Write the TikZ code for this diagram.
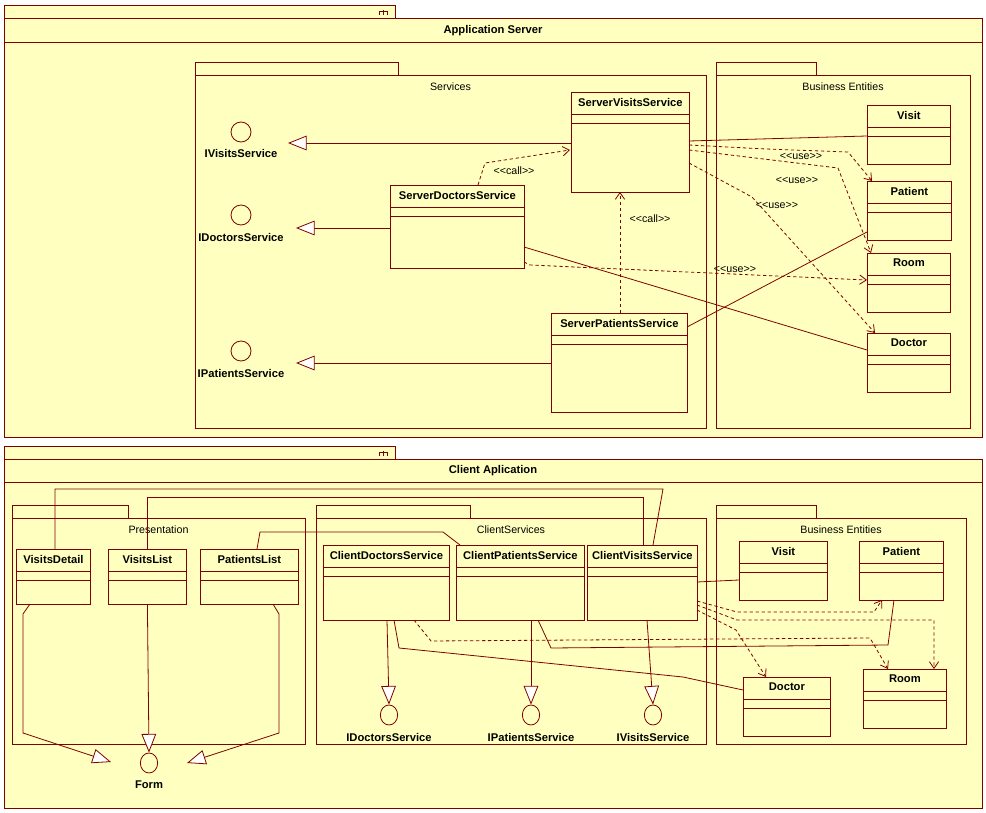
\documentclass[tikz,border=0pt]{standalone}
\usepackage{fontspec}
\setmainfont{Liberation Sans}
\usetikzlibrary{arrows.meta,calc,positioning}
\definecolor{umlfill}{RGB}{255,255,192}
\definecolor{umlline}{RGB}{128,0,0}
\tikzset{
  pkg/.style={draw=umlline,fill=umlfill,line width=0.6pt},
  cls/.style={draw=umlline,fill=umlfill,line width=0.6pt,anchor=north west,inner sep=0pt},
  clsname/.style={font=\fontsize{8.4}{9}\selectfont\bfseries,anchor=north,inner sep=0pt},
  pkgname/.style={font=\fontsize{8}{9}\selectfont,inner sep=0pt},
  iface/.style={draw=umlline,fill=umlfill,line width=0.6pt,ellipse,inner sep=0pt},
  ifname/.style={font=\fontsize{8.4}{9}\selectfont\bfseries,inner sep=0pt},
  link/.style={draw=umlline,line width=0.6pt},
  real/.style={link,-{Triangle[length=14pt,width=11pt,fill=white]}},
  dep/.style={link,dashed,dash pattern=on 2.5pt off 2pt,-{Straight Barb[length=5pt,width=7pt]}},
  stereo/.style={font=\fontsize{8}{9}\selectfont,text=black,inner sep=1pt}
}
\usetikzlibrary{shapes.geometric}
\newcommand\use{{<}{<}use{>}{>}}
\newcommand\call{{<}{<}call{>}{>}}
% class box: name, x1, y1, x2, y2, title
\newcommand\umlcls[6]{%
  \node[cls,minimum width={(#4-#2)*0.75pt},minimum height={(#5-#3)*0.75pt}] (#1) at (#2,#3) {};
  \node[clsname] at ([yshift=-4.5pt]#1.north) {#6};
  \draw[umlline,line width=0.6pt] ([yshift=-16.5pt]#1.north west) -- ([yshift=-16.5pt]#1.north east);
  \draw[umlline,line width=0.6pt] ([yshift=-23.25pt]#1.north west) -- ([yshift=-23.25pt]#1.north east);}
% package: x1, tabx2, y1, x2, y2, label
\newcommand\umlpkg[6]{%
  \draw[pkg] (#1,#3) rectangle (#2,#3+13);
  \draw[pkg] (#1,#3+13) rectangle (#4,#5);
  \node[pkgname] at ({(#1+#4)/2},#3+25) {#6};}
\begin{document}
\begin{tikzpicture}[x=0.75pt,y=-0.75pt]
\useasboundingbox[fill=white] (0,0) rectangle (986,813);

% application server
\draw[pkg] (4,5) rectangle (395,18);
\draw[pkg] (4,18) rectangle (982,437);
\draw[umlline,line width=0.6pt] (4,42) -- (982,42);
\draw[umlline,line width=0.6pt] (383,15) -- (383,10) (379,15) -- (379,11) -- (387,11) -- (387,15);
\node[ifname] (appsrv) at (493,31) {Application Server};

\umlpkg{195}{398}{62}{706}{428}{Services}
\umlpkg{716}{816}{62}{970}{428}{Business Entities}

\umlcls{svs}{571}{92}{689}{192}{ServerVisitsService}
\umlcls{sds}{390}{185}{524}{268}{ServerDoctorsService}
\umlcls{sps}{551}{313}{687}{412}{ServerPatientsService}
\umlcls{visit}{867}{105}{950}{164}{Visit}
\umlcls{patient}{867}{181}{951}{240}{Patient}
\umlcls{room}{867}{253}{950}{312}{Room}
\umlcls{doctor}{867}{333}{950}{392}{Doctor}

\node[iface,minimum width=15pt,minimum height=15pt] (ivs) at (241,132) {};
\node[ifname] (ivsl) at (241,153) {IVisitsService};
\node[iface,minimum width=15pt,minimum height=15pt] (ids) at (241,215) {};
\node[ifname] (idsl) at (241,237) {IDoctorsService};
\node[iface,minimum width=15pt,minimum height=15pt] (ips) at (241,351) {};
\node[ifname] (ipsl) at (241,373) {IPatientsService};

\coordinate (ivst) at (288,143);
\coordinate (idst) at (296,228);
\coordinate (ipst) at (296,363);
\draw[real] (svs.west |- ivst) -- (ivst);
\draw[real] (sds.west |- idst) -- (idst);
\draw[real] (sps.west |- ipst) -- (ipst);

\draw[link] (689,141) -- (visit.west |- 0,136);
\draw[link] (524,247) -- (doctor.west |- 0,350);
\draw[link] (687,327) -- (patient.west |- 0,232);
\draw[dep] (689,145) -- (766,149) -- (848,152) -- (872,181);
\draw[dep] (689,150) -- (838,168) -- (871,253);
\draw[dep] (689,163) -- (752,197) -- (875,333);
\draw[dep] (524,262) -- (530,265) -- (room.west |- 0,280);
\draw[dep] (478,185) -- (485,163) -- (570,150);
\draw[dep] (620,313) -- (620,192);
\node[stereo] (use1) at (801,156) {\use};
\node[stereo] (use2) at (797,180) {\use};
\node[stereo] (use3) at (777,205) {\use};
\node[stereo] (use4) at (735,269) {\use};
\node[stereo] (call1) at (514,171) {\call};
\node[stereo] (call2) at (650,219) {\call};

% client application
\draw[pkg] (4,446) rectangle (395,459);
\draw[pkg] (4,459) rectangle (982,808);
\draw[umlline,line width=0.6pt] (4,482) -- (982,482);
\draw[umlline,line width=0.6pt] (383,456) -- (383,451) (379,456) -- (379,452) -- (387,452) -- (387,456);
\node[ifname] (cliapp) at (493,471) {Client Aplication};

\umlpkg{12}{128}{505}{305}{744}{Presentation}
\umlpkg{316}{470}{505}{706}{744}{ClientServices}
\umlpkg{716}{816}{505}{966}{744}{Business Entities}

\umlcls{vd}{16}{549}{90}{604}{VisitsDetail}
\umlcls{vl}{108}{549}{186}{604}{VisitsList}
\umlcls{pl}{200}{549}{298}{604}{PatientsList}
\umlcls{cds}{323}{545}{449}{620}{ClientDoctorsService}
\umlcls{cps}{456}{545}{584}{620}{ClientPatientsService}
\umlcls{cvs}{587}{545}{697}{620}{ClientVisitsService}
\umlcls{cvisit}{739}{541}{827}{600}{Visit}
\umlcls{cpatient}{859}{541}{943}{600}{Patient}
\umlcls{cdoctor}{743}{677}{830}{736}{Doctor}
\umlcls{croom}{863}{669}{946}{728}{Room}

\node[iface,minimum width=13pt,minimum height=15pt] (cids) at (389,715) {};
\node[ifname] (cidsl) at (389,737) {IDoctorsService};
\node[iface,minimum width=13pt,minimum height=15pt] (cips) at (531,715) {};
\node[ifname] (cipsl) at (531,737) {IPatientsService};
\node[iface,minimum width=13pt,minimum height=15pt] (civs) at (653,715) {};
\node[ifname] (civsl) at (653,737) {IVisitsService};
\node[iface,minimum width=13pt,minimum height=15pt] (form) at (149,763) {};
\node[ifname] (forml) at (149,785) {Form};

\draw[real] (387,620) -- (cids.north);
\draw[real] (531,620) -- (cips.north);
\draw[real] (647,620) -- (civs.north);
\draw[real] (30,604) -- (23,614) -- (23,733) -- (111,762);
\draw[real] (vl.south |- 0,604) -- (form.north);
\draw[real] (273,604) -- (279,614) -- (279,733) -- (187,763);

\draw[link] (55,549) -- (55,489) -- (663,489) -- (653,545);
\draw[link] (147,549) -- (147,497) -- (643,497) -- (643,545);
\draw[link] (257,549) -- (260,532) -- (443,532) -- (460,545);
\draw[link] (394,620) -- (399,648) -- (683,677) -- (cdoctor.west |- 0,690);
\draw[link] (538,620) -- (551,648) -- (888,645) -- (894,600);
\draw[link] (697,582) -- (cvisit.west |- 0,580);
\draw[dep] (414,620) -- (431,641) -- (870,638) -- (888,669);
\draw[dep] (697,601) -- (737,612) -- (874,612) -- (882,600);
\draw[dep] (697,605) -- (737,620) -- (934,620) -- (934,669);
\draw[dep] (697,610) -- (736,630) -- (766,677);
\end{tikzpicture}
\end{document}
